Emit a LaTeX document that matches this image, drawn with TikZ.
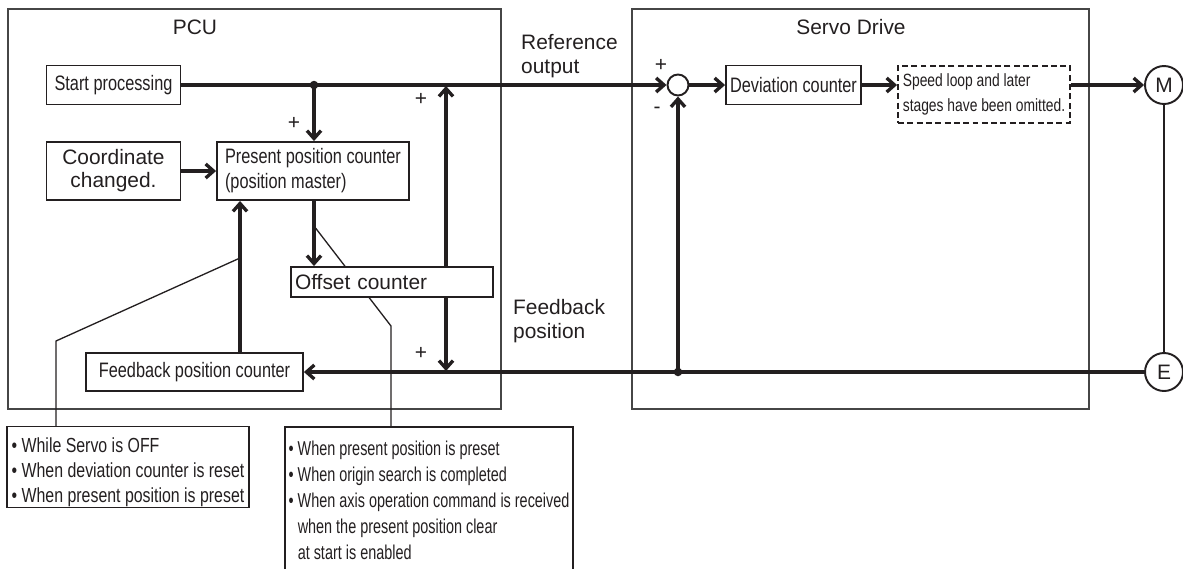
\documentclass[tikz,border=0pt]{standalone}
\usepackage{fontspec}
\setmainfont{Liberation Sans}
\newfontfamily\narrowfont[FakeStretch=0.78]{Liberation Sans}
\newfontfamily\narrowerfont[FakeStretch=0.72]{Liberation Sans}
\usetikzlibrary{arrows.meta}
\definecolor{ink}{RGB}{35,31,32}
\definecolor{framegray}{RGB}{70,70,70}

\begin{document}
\begin{tikzpicture}[x=0.02cm,y=-0.02cm,ink,
    font=\fontsize{11.9}{14.2}\selectfont,
    narrow/.style={font=\fontsize{11.9}{14.2}\selectfont\narrowfont},
    box/.style={draw=ink,line width=1.1pt,fill=white,inner sep=0pt},
    note/.style={draw=ink,line width=0.8pt,align=left,inner sep=0pt,
                 font=\fontsize{11.6}{14.2}\selectfont\narrowfont},
    flow/.style={line width=1.9pt,-{Straight Barb[length=4.5pt,width=8pt]}},
    lead/.style={line width=0.75pt},
    frame/.style={draw=framegray,line width=0.9pt},
    dot/.style={circle,fill=ink,inner sep=0pt,minimum size=0.17cm},
    ring/.style={circle,draw=ink,line width=1.1pt,fill=white,inner sep=0pt}]
    \useasboundingbox (0,0) rectangle (1183,569);

    % the two units
    \draw[frame] (8,9) rectangle (501,409);
    \draw[frame] (632,9) rectangle (1089,409);
    \node (pcu) at (195,27) {PCU};
    \node (drive) at (851,27) {Servo Drive};

    % notes below the PCU
    \node[note,minimum width=4.84cm,minimum height=1.62cm] (note1) at (128,467)
        {\rule{0pt}{14.4pt}• While Servo is OFF\\• When deviation counter is reset\\• When present position is preset};
    \node[note,draw=none,anchor=north west,font=\fontsize{11.4}{14.8}\selectfont\narrowerfont] (note2) at (288,440)
        {• When present position is preset\\• When origin search is completed\\• When axis operation command is received\\\hphantom{• }when the present position clear\\\hphantom{• }at start is enabled};
    \draw[note] (285,569) |- (573,427) -- (573,569);

    % leader lines to the notes
    \coordinate (lead1) at (240,258);
    \coordinate (bend1) at (56,341);
    \coordinate (lead2) at (314,226);
    \coordinate (bend2) at (391,326);
    \draw[lead] (lead1) -- (bend1) -- (bend1 |- note1.north);
    \draw[lead] (lead2) -- (bend2) -- (391,427);

    % PCU blocks
    \node[box,narrow,minimum width=2.68cm,minimum height=0.78cm] (start) at (113.5,85) {Start processing};
    \node[box,align=center,minimum width=2.68cm,minimum height=1.16cm,font=\fontsize{11.9}{13}\selectfont] (coord) at (113.5,171) {Coordinate\\changed.};
    \node[box,narrow,align=left,minimum width=3.84cm,minimum height=1.16cm] (present) at (313,171) {Present position counter\\(position master)};
    \node[box,align=left,text width=3.88cm,inner xsep=0.08cm,minimum height=0.6cm] (offset) at (392,282) {Offset counter};
    \node[box,narrow,minimum width=4.34cm,minimum height=0.76cm] (fpc) at (194.5,372) {Feedback position counter};

    % servo drive blocks
    \node[ring,minimum size=0.42cm] (sum) at (678,85) {};
    \node[box,narrow,minimum width=2.7cm,minimum height=0.78cm] (dev) at (793.5,85) {Deviation counter};
    \node[box,dashed,dash pattern=on 3.4pt off 1.9pt,align=left,minimum width=3.44cm,minimum height=1.14cm,
          font=\fontsize{10.1}{14.2}\selectfont\narrowfont] (omit) at (984,94.5) {Speed loop and later\\stages have been omitted.};
    \node[ring,minimum size=0.76cm] (motor) at (1164,85) {M};
    \node[ring,minimum size=0.76cm] (enc) at (1164,372) {E};

    % signal lines
    \coordinate (split) at (314,85);
    \coordinate (fbsplit) at (678,372);
    \coordinate (refin) at (446,86);
    \coordinate (fbin) at (446,371);
    \coordinate (fbx) at (240,0);
    \draw[flow] (start) -- (sum);
    \draw[flow] (split) -- (split |- present.north);
    \draw[flow] (coord) -- (present);
    \draw[flow] (split |- present.south) -- (split |- offset.north);
    \draw[flow] (offset.north -| refin) -- (refin);
    \draw[flow] (offset.south -| fbin) -- (fbin);
    \draw[flow] (fpc.north -| fbx) -- (present.south -| fbx);
    \draw[flow] (enc) -- (fpc);
    \draw[flow] (fbsplit) -- (sum);
    \draw[flow] (sum) -- (dev);
    \draw[flow] (dev.east) -- (dev.east -| omit.west);
    \draw[flow] (omit.east |- motor) -- (motor);
    \draw[line width=1.1pt] (motor) -- (enc);
    \node[dot] (splitdot) at (split) {};
    \node[dot] (fbsplitdot) at (fbsplit) {};

    % signs and line labels
    \node (p1) at (294,123) {+};
    \node (p2) at (421,99) {+};
    \node (p3) at (421,353) {+};
    \node (p4) at (661,65) {+};
    \node (m1) at (657,110) {-};
    \node[anchor=west,align=left,font=\fontsize{11.9}{13.6}\selectfont] (reflabel) at (515,56) {Reference\\output};
    \node[anchor=west,align=left,font=\fontsize{11.9}{13.6}\selectfont] (fblabel) at (507,321) {Feedback\\position};
\end{tikzpicture}
\end{document}
